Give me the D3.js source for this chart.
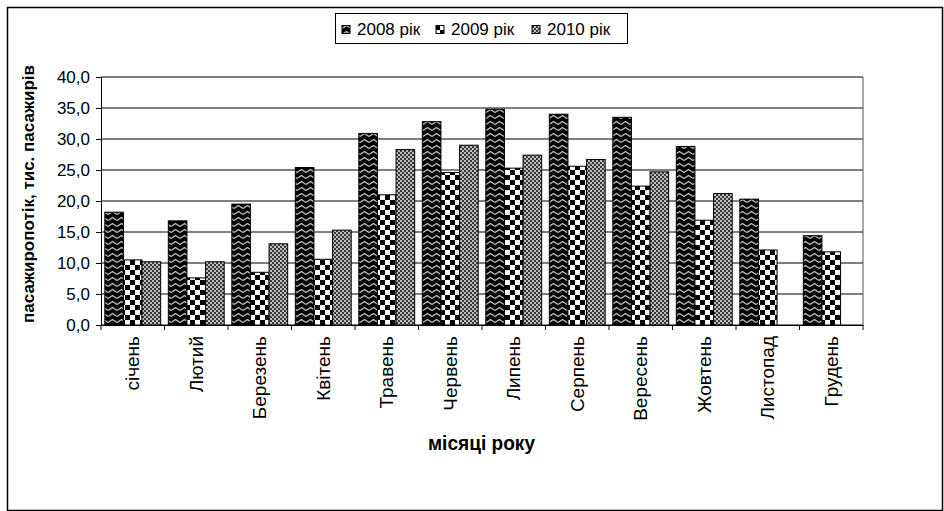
<!DOCTYPE html>
<html><head><meta charset="utf-8">
<script src="https://cdn.jsdelivr.net/npm/d3@7"></script>
<style>body{margin:0;background:#fff}svg{display:block}text{font-family:"Liberation Sans",Arial,sans-serif}</style>
</head><body><svg id="c" width="944" height="511"></svg>
<script>
const months = ["січень","Лютий","Березень","Квітень","Травень","Червень","Липень","Серпень","Вересень","Жовтень","Листопад","Грудень"];
const seriesNames = ["2008 рік","2009 рік","2010 рік"];
const v2008 = [18.2,16.8,19.5,25.4,30.9,32.8,34.8,34.0,33.5,28.8,20.3,14.4];
const v2009 = [10.5,7.6,8.5,10.6,21.0,24.6,25.3,25.6,22.4,16.9,12.1,11.8];
const v2010 = [10.2,10.2,13.1,15.3,28.3,29.0,27.4,26.7,24.7,21.2,null,null];
const yTicks = [0,5,10,15,20,25,30,35,40];
const allSeries = [v2008,v2009,v2010];

const svg = d3.select("#c");
const m = {l:101,r:863,t:77,b:325};
svg.append("rect").attr("x",7.5).attr("y",7.5).attr("width",935).attr("height",503).attr("fill","#fff").attr("stroke","#000").attr("stroke-width",1.5);

const defs = svg.append("defs");
const p1 = defs.append("pattern").attr("id","p0").attr("patternUnits","userSpaceOnUse").attr("width",9).attr("height",6);
p1.append("rect").attr("width",9).attr("height",6).attr("fill","#000");
p1.append("path").attr("d","M0,4.5 L4.5,1.5 L9,4.5").attr("fill","none").attr("stroke","#c0c0c0").attr("stroke-width",1.4);
const p2 = defs.append("pattern").attr("id","p1").attr("patternUnits","userSpaceOnUse").attr("width",10).attr("height",10);
p2.append("rect").attr("width",10).attr("height",10).attr("fill","#fff");
p2.append("rect").attr("width",5).attr("height",5).attr("fill","#000");
p2.append("rect").attr("x",5).attr("y",5).attr("width",5).attr("height",5).attr("fill","#000");
const p3 = defs.append("pattern").attr("id","p2").attr("patternUnits","userSpaceOnUse").attr("width",4).attr("height",4);
p3.append("rect").attr("width",4).attr("height",4).attr("fill","#3a3a3a");
p3.append("rect").attr("width",2).attr("height",2).attr("fill","#bdbdbd");
p3.append("rect").attr("x",2).attr("y",2).attr("width",2).attr("height",2).attr("fill","#bdbdbd");

const x = d3.scaleBand().domain(months).range([m.l,m.r]).paddingInner(0).paddingOuter(0);
const xs = d3.scaleBand().domain([0,1,2]).range([0,x.bandwidth()]).paddingInner(0).paddingOuter(0.205);
const y = d3.scaleLinear().domain([0,40]).range([m.b,m.t]);

svg.append("g").selectAll("line").data(yTicks).join("line")
  .attr("x1",m.l).attr("x2",m.r).attr("y1",d=>y(d)).attr("y2",d=>y(d))
  .attr("stroke","#000").attr("stroke-width",1);
svg.append("line").attr("x1",m.r).attr("x2",m.r).attr("y1",m.t).attr("y2",m.b).attr("stroke","#555");

const g = svg.append("g");
allSeries.forEach((vals,si)=>{
  g.append("g").selectAll("rect").data(vals.map((v,i)=>({v,m:months[i]})).filter(d=>d.v!=null)).join("rect")
    .attr("x",d=>x(d.m)+xs(si)).attr("width",xs.bandwidth())
    .attr("y",d=>y(d.v)).attr("height",d=>y(0)-y(d.v))
    .attr("fill",`url(#p${si})`).attr("stroke","#000").attr("stroke-width",1);
});

const ya = svg.append("g").attr("transform",`translate(${m.l},0)`)
  .call(d3.axisLeft(y).tickValues(yTicks).tickSize(5).tickPadding(6).tickFormat(d=>d3.format(".1f")(d).replace(".",",")));
ya.attr("font-size",null).attr("font-family",null);
ya.select(".domain").attr("stroke","#000");
ya.selectAll("text").style("font-size","17px").attr("fill","#000");
const xa = svg.append("g").attr("transform",`translate(0,${m.b})`)
  .call(d3.axisBottom(x).tickSize(0).tickFormat(d=>d));
xa.attr("font-size",null).attr("font-family",null);
xa.select(".domain").attr("stroke","#000");
xa.selectAll(".tick text").attr("transform","rotate(-90)").attr("text-anchor","end")
  .attr("x",-11).attr("y",0).attr("dy","0.35em").style("font-size","19px").attr("fill","#000");
svg.append("g").selectAll("line").data(d3.range(months.length+1)).join("line")
  .attr("x1",i=>m.l+i*x.step()).attr("x2",i=>m.l+i*x.step()).attr("y1",m.b).attr("y2",m.b+5).attr("stroke","#000");

svg.append("text").attr("transform",`translate(28,${194}) rotate(-90)`).attr("text-anchor","middle").attr("dy","0.35em")
  .style("font-size","17px").attr("font-weight","bold").text("пасажиропотік, тис. пасажирів");
svg.append("text").attr("x",428).attr("y",450).attr("textLength",107).attr("lengthAdjust","spacingAndGlyphs")
  .style("font-size","20px").attr("font-weight","bold").text("місяці року");

const lg = svg.append("g");
lg.append("rect").attr("x",335.5).attr("y",13.5).attr("width",292).attr("height",30).attr("fill","#fff").attr("stroke","#000");
const lx = [342,436,532];
seriesNames.forEach((s,i)=>{
  lg.append("rect").attr("x",lx[i]).attr("y",25.5).attr("width",8).attr("height",8).attr("fill",`url(#p${i})`).attr("stroke","#000");
  lg.append("text").attr("x",lx[i]+15).attr("y",35).style("font-size","17px").text(s);
});
</script></body></html>
